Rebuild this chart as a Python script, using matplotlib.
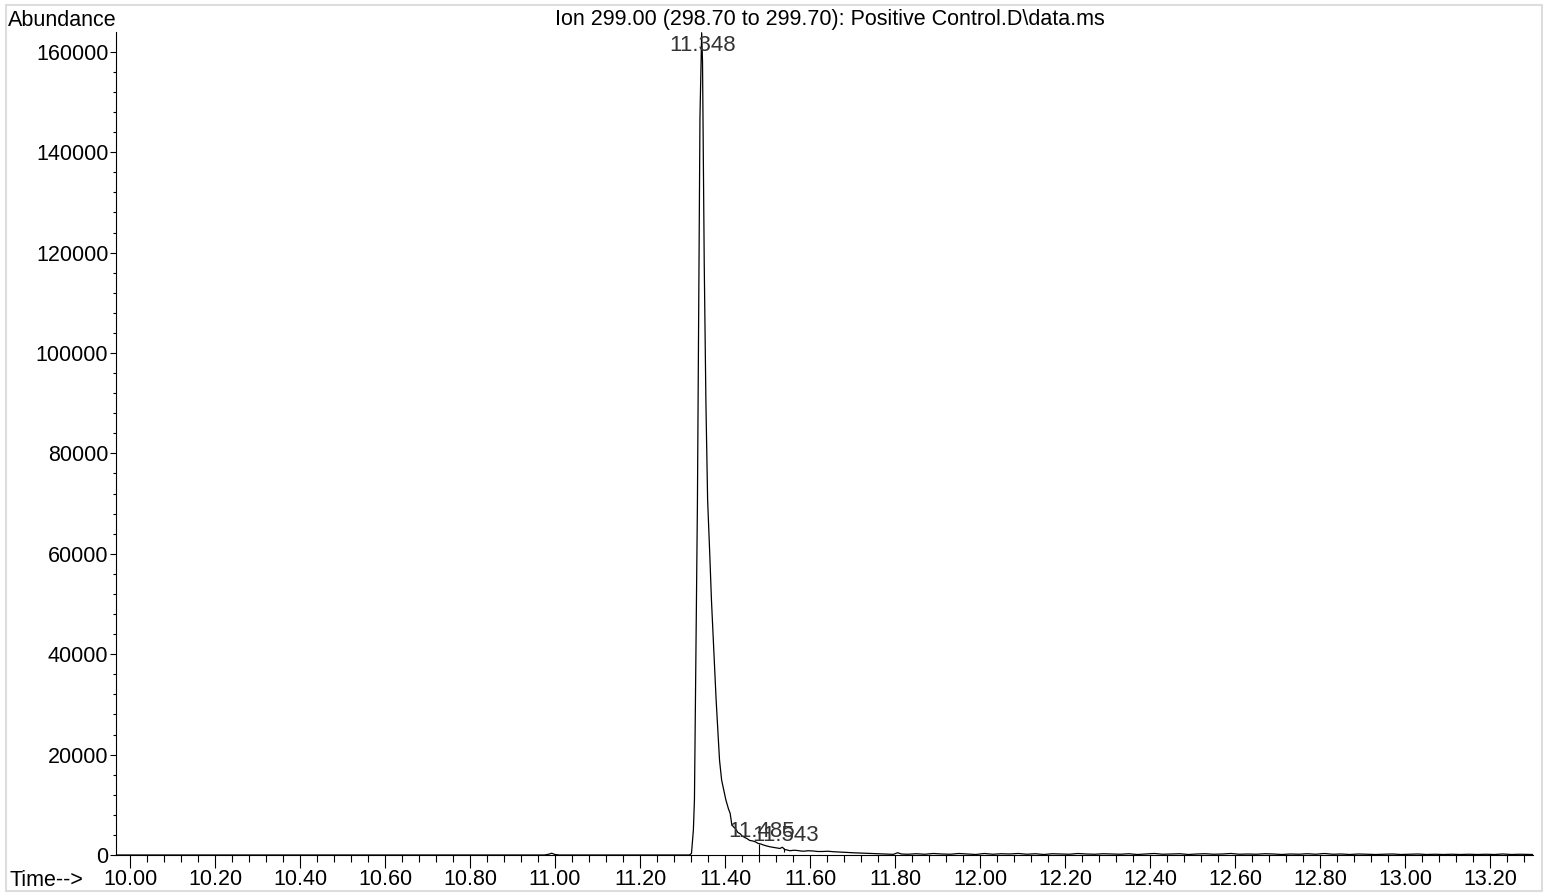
import matplotlib
matplotlib.use("Agg")
import matplotlib.pyplot as plt
from matplotlib.ticker import MultipleLocator, FuncFormatter
from matplotlib.patches import Rectangle

plt.rcParams['font.family'] = ['Liberation Sans', 'DejaVu Sans']

# ---- data ----
time = [9.967, 10.30, 10.60, 10.90, 10.975, 10.985, 10.992, 11.000, 11.010, 11.10, 11.25, 11.310,
        11.316, 11.321, 11.3255, 11.328, 11.335, 11.341, 11.345, 11.347, 11.351, 11.355,
        11.359, 11.364, 11.368, 11.374, 11.379, 11.387, 11.392, 11.402, 11.408, 11.412,
        11.416, 11.420, 11.425, 11.430, 11.436, 11.440, 11.446, 11.451, 11.458, 11.465,
        11.472, 11.478, 11.484, 11.490, 11.498, 11.506, 11.515, 11.522, 11.529, 11.535,
        11.540, 11.546, 11.553, 11.562, 11.570, 11.578, 11.585, 11.595, 11.607, 11.618,
        11.630, 11.642, 11.655, 11.668, 11.680, 11.690, 11.700, 11.715, 11.733, 11.748,
        11.760, 11.778, 11.796, 11.806, 11.815, 11.830, 11.850, 11.870, 11.890, 11.910,
        11.930, 11.950, 11.970, 11.990, 12.010, 12.030, 12.050, 12.070, 12.090, 12.110,
        12.130, 12.150, 12.170, 12.190, 12.210, 12.230, 12.250, 12.270, 12.290, 12.310,
        12.330, 12.350, 12.370, 12.390, 12.410, 12.430, 12.450, 12.470, 12.490, 12.510,
        12.530, 12.550, 12.570, 12.590, 12.610, 12.630, 12.650, 12.670, 12.690, 12.710,
        12.730, 12.750, 12.770, 12.790, 12.810, 12.830, 12.850, 12.870, 12.890, 12.910,
        12.930, 12.950, 12.970, 12.990, 13.010, 13.030, 13.050, 13.070, 13.090, 13.110,
        13.130, 13.150, 13.170, 13.190, 13.210, 13.230, 13.250, 13.270, 13.301]
abundance = [0, 0, 0, 0, 0, 150, 350, 100, 0, 0, 0, 0,
             0, 300, 5000, 11000, 70000, 147000, 163800, 158000, 118000, 90000,
             70700, 60000, 50800, 40000, 30900, 18900, 14900, 10950, 9200, 8300,
             6000, 5600, 5200, 4500, 4200, 3800, 3500, 3300, 2900, 2800,
             2600, 2300, 2200, 2000, 1800, 1630, 1500, 1400, 1300, 1550,
             1100, 1000, 850, 950, 900, 800, 750, 850, 800, 700,
             700, 750, 650, 600, 550, 500, 450, 400, 330, 300,
             250, 200, 130, 450, 200, 150, 250, 150, 300, 200,
             150, 300, 200, 100, 300, 150, 250, 200, 300, 150,
             250, 100, 250, 200, 150, 300, 200, 150, 250, 200,
             150, 250, 100, 200, 300, 150, 200, 250, 100, 200,
             250, 150, 200, 300, 150, 200, 150, 250, 200, 100,
             200, 150, 250, 150, 300, 150, 200, 100, 200, 150,
             100, 150, 200, 100, 150, 200, 100, 150, 100, 150,
             100, 150, 100, 150, 100, 200, 100, 150, 100]

peak_times = [11.348, 11.485, 11.543]
peak_label_y = [161300, 4700, 3800]
peak_labels = ["11.348", "11.485", "11.543"]

marker_times = [11.480, 11.538]
marker_top = [2250, 1350]
marker_bottom = [0, 600]

title = "Ion 299.00 (298.70 to 299.70): Positive Control.D\\data.ms"

FS = 15.5

# ---- figure ----
fig = plt.figure(figsize=(15.43, 8.94), dpi=100)
ax = fig.add_axes([116/1543, 1 - 855/894, (1533 - 116)/1543, (855 - 32)/894])

ax.plot(time, abundance, color='black', lw=0.9)
ax.vlines(marker_times, marker_bottom, marker_top, color='black', lw=0.8)

for t, y, s in zip(peak_times, peak_label_y, peak_labels):
    ax.text(t, y, s, ha='center', va='center', fontsize=16, color='#333333')

ax.set_xlim(9.967, 13.301)
ax.set_ylim(0, 163944)

for side in ['top', 'right']:
    ax.spines[side].set_visible(False)
for side in ['left', 'bottom']:
    ax.spines[side].set_linewidth(0.8)

ax.xaxis.set_major_locator(MultipleLocator(0.2))
ax.xaxis.set_minor_locator(MultipleLocator(0.04))
ax.xaxis.set_major_formatter(FuncFormatter(lambda v, p: f"{v:.2f}"))
ax.yaxis.set_major_locator(MultipleLocator(20000))
ax.yaxis.set_minor_locator(MultipleLocator(4000))
ax.yaxis.set_major_formatter(FuncFormatter(lambda v, p: f"{int(round(v))}"))

ax.tick_params(axis='x', which='major', direction='out', length=9, width=0.8, pad=1.0, labelsize=FS)
ax.tick_params(axis='x', which='minor', direction='out', length=5, width=0.8)
ax.tick_params(axis='y', which='major', direction='out', length=4, width=0.8, pad=1.5, labelsize=FS)
ax.tick_params(axis='y', which='minor', direction='out', length=2, width=0.8)

fig.text(8/1543, 1 - 20/894, "Abundance", ha='left', va='center', fontsize=FS)
fig.text(830/1543, 1 - 20/894, title, ha='center', va='center', fontsize=FS)
fig.text(10/1543, 1 - 881/894, "Time-->", ha='left', va='center', fontsize=FS)

fig.patches.append(Rectangle((6/1543, 3/894), 1536/1543, 886/894, transform=fig.transFigure,
                             fill=False, edgecolor='#dddddd', lw=1.5))

fig.savefig("out.png", dpi=100)
